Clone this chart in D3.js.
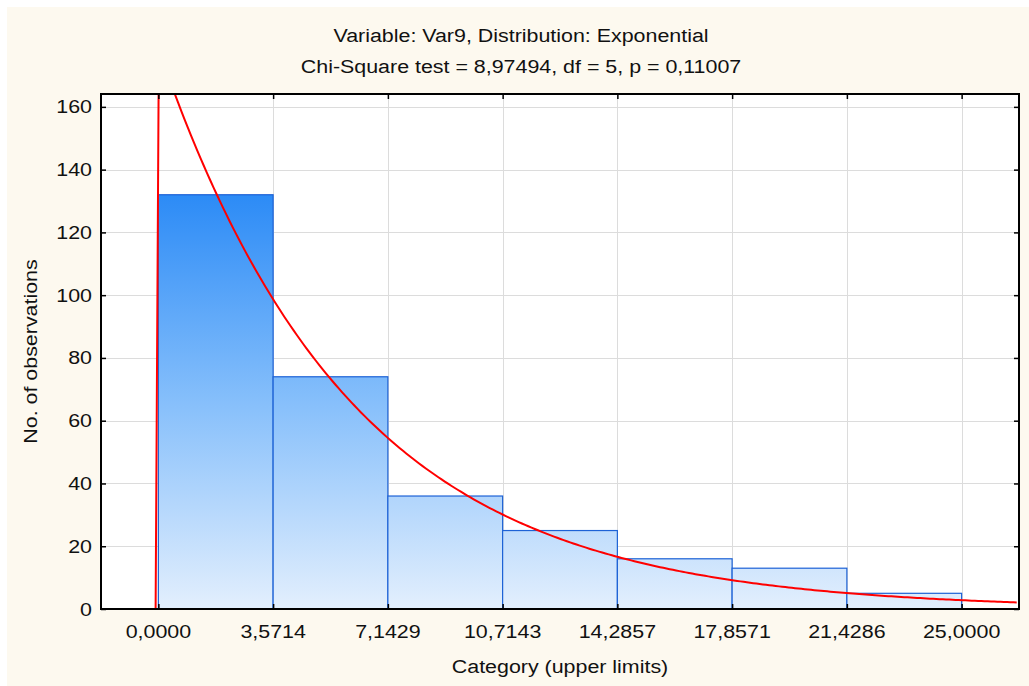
<!DOCTYPE html>
<html>
<head>
<meta charset="utf-8">
<script src="https://cdn.jsdelivr.net/npm/d3@7"></script>
<style>
  html, body { margin:0; padding:0; background:#fff; }
  svg { display:block; font-family:"Liberation Sans", Arial, sans-serif; }
</style>
</head>
<body>
<svg id="chart" width="1029" height="686"></svg>
<script>
/* ---------- data ---------- */
const binEdges   = [0, 3.5714, 7.1429, 10.7143, 14.2857, 17.8571, 21.4286, 25.0000];
const counts     = [132, 74, 36, 25, 16, 13, 5];
const tickLabels = ["0,0000","3,5714","7,1429","10,7143","14,2857","17,8571","21,4286","25,0000"];
const yTicks     = [0, 20, 40, 60, 80, 100, 120, 140, 160];

// fitted exponential (expected counts per bin width)
const fitN      = 301;
const fitWidth  = 3.5714;
const fitLambda = 0.1662;

const titleLines = [
  "Variable: Var9, Distribution: Exponential",
  "Chi-Square test = 8,97494, df = 5, p = 0,11007"
];

/* ---------- layout ---------- */
const W = 1029, H = 686;
const plot = { left:101, top:94, right:1019, bottom:609 };
const fs = 18, sx = 1.19;   // reference glyphs are wider than Arial

const svg = d3.select("#chart");

svg.append("rect")
  .attr("x", 7).attr("y", 7).attr("width", W-7).attr("height", H-7)
  .attr("fill", "#fdf9ef");

const x = d3.scaleLinear().domain([-1.7857, 26.7857]).range([plot.left, plot.right]);
const y = d3.scaleLinear().domain([0, 164.1]).range([plot.bottom, plot.top]);

const defs = svg.append("defs");
defs.append("clipPath").attr("id","clip")
  .append("rect")
  .attr("x", plot.left).attr("y", plot.top)
  .attr("width", plot.right-plot.left).attr("height", plot.bottom-plot.top);

const grad = defs.append("linearGradient").attr("id","barGrad")
  .attr("gradientUnits","userSpaceOnUse")
  .attr("x1",0).attr("x2",0)
  .attr("y1", y(d3.max(counts))).attr("y2", y(0));
grad.append("stop").attr("offset","0%").attr("stop-color","#2c8bf6");
grad.append("stop").attr("offset","50%").attr("stop-color","#86bffb");
grad.append("stop").attr("offset","100%").attr("stop-color","#e3effd");

/* plot background */
svg.append("rect")
  .attr("x", plot.left).attr("y", plot.top)
  .attr("width", plot.right-plot.left).attr("height", plot.bottom-plot.top)
  .attr("fill", "#fff");

/* grid */
const grid = svg.append("g").attr("stroke","#dcdcdc").attr("stroke-width",1);
grid.selectAll("line.h").data(yTicks.filter(d=>d>0)).enter().append("line")
  .attr("x1", plot.left).attr("x2", plot.right)
  .attr("y1", d=>Math.round(y(d))+0.5).attr("y2", d=>Math.round(y(d))+0.5);
grid.selectAll("line.v").data(binEdges).enter().append("line")
  .attr("y1", plot.top).attr("y2", plot.bottom)
  .attr("x1", d=>Math.round(x(d))+0.5).attr("x2", d=>Math.round(x(d))+0.5);

/* bars */
svg.append("g").selectAll("rect").data(counts).enter().append("rect")
  .attr("x", (d,i)=>x(binEdges[i]))
  .attr("width", (d,i)=>x(binEdges[i+1])-x(binEdges[i]))
  .attr("y", d=>y(d))
  .attr("height", d=>y(0)-y(d))
  .attr("fill","url(#barGrad)")
  .attr("stroke","#1d62d6")
  .attr("stroke-width",1.2);

/* fitted curve */
const expPdf = v => v < 0 ? 0 : fitN*fitWidth*fitLambda*Math.exp(-fitLambda*v);
const curvePts = d3.range(-1.7857, 26.80, 0.1).map(v => [v, expPdf(v)]);
svg.append("path")
  .datum(curvePts)
  .attr("clip-path","url(#clip)")
  .attr("fill","none")
  .attr("stroke","#ff0000")
  .attr("stroke-width",2)
  .attr("d", d3.line().x(d=>x(d[0])).y(d=>y(d[1])));

/* axes: frame + inward ticks */
const tick = 5;
const axisG = svg.append("g");
axisG.append("g").attr("transform",`translate(${plot.left},0)`)
  .call(d3.axisRight(y).tickValues(yTicks).tickSize(tick).tickFormat(""))
  .call(g=>g.select(".domain").remove());
axisG.append("g").attr("transform",`translate(${plot.right},0)`)
  .call(d3.axisLeft(y).tickValues(yTicks).tickSize(tick).tickFormat(""))
  .call(g=>g.select(".domain").remove());
axisG.append("g").attr("transform",`translate(0,${plot.bottom})`)
  .call(d3.axisTop(x).tickValues(binEdges).tickSize(tick).tickFormat(""))
  .call(g=>g.select(".domain").remove());
axisG.append("g").attr("transform",`translate(0,${plot.top})`)
  .call(d3.axisBottom(x).tickValues(binEdges).tickSize(tick).tickFormat(""))
  .call(g=>g.select(".domain").remove());
axisG.selectAll(".tick line").attr("stroke","#000").attr("stroke-width",1.5);

svg.append("rect")
  .attr("x", plot.left).attr("y", plot.top)
  .attr("width", plot.right-plot.left).attr("height", plot.bottom-plot.top)
  .attr("fill","none").attr("stroke","#000").attr("stroke-width",2);

/* text helper: widened glyphs */
function label(sel, tx, ty, anchor, rot=0){
  return sel
    .attr("transform", (d,i) => {
      const px = typeof tx === "function" ? tx(d,i) : tx;
      const py = typeof ty === "function" ? ty(d,i) : ty;
      return `translate(${px},${py}) rotate(${rot}) scale(${sx},1)`;
    })
    .attr("text-anchor", anchor)
    .attr("font-size", fs)
    .attr("fill", "#111");
}

/* tick labels */
label(svg.append("g").selectAll("text").data(yTicks).enter().append("text"),
      plot.left-9, d=>y(d)+6.5, "end").text(d=>d);
label(svg.append("g").selectAll("text").data(binEdges).enter().append("text"),
      d=>x(d), 638, "middle").text((d,i)=>tickLabels[i]);

/* titles */
label(svg.append("g").selectAll("text").data(titleLines).enter().append("text"),
      521, (d,i)=>42+i*31, "middle").text(d=>d);

label(svg.append("text").datum(0),
      (plot.left+plot.right)/2, 673, "middle").text("Category (upper limits)");

label(svg.append("text").datum(0),
      37, (plot.top+plot.bottom)/2, "middle", -90).text("No. of observations");
</script>
</body>
</html>
